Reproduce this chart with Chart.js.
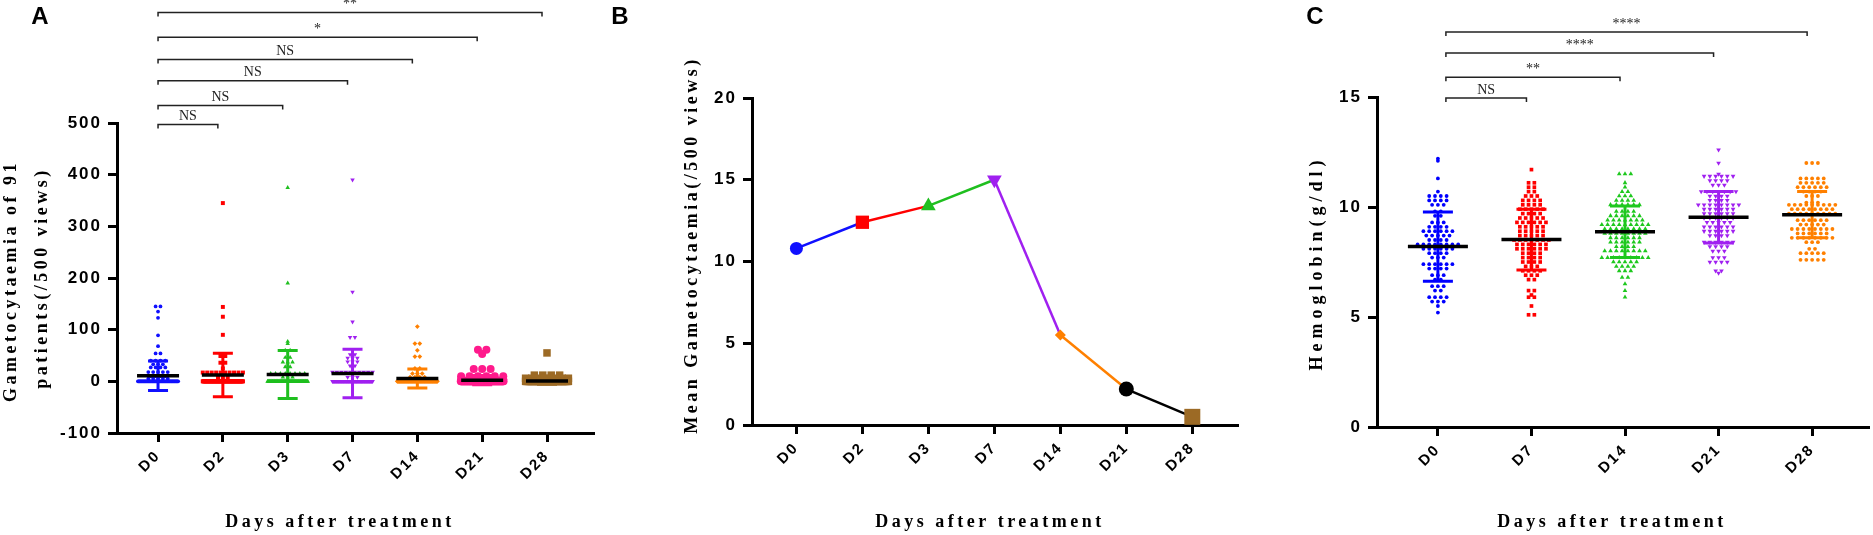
<!DOCTYPE html>
<html>
<head>
<meta charset="utf-8">
<script src="https://cdn.jsdelivr.net/npm/chart.js@4.4.0/dist/chart.umd.min.js"></script>
<style>
  body { margin: 0; background: #fff; }
  #wrap { position: relative; width: 1873px; height: 535px; }
  #wrap canvas { position: absolute; top: 0; }
</style>
</head>
<body>
<div id="wrap">
  <canvas id="chartA" width="600" height="535" style="left:0"></canvas>
  <canvas id="chartB" width="650" height="535" style="left:600px"></canvas>
  <canvas id="chartC" width="623" height="535" style="left:1250px"></canvas>
</div>
<script>
// ---- data ----
const daysGam = ['D0', 'D2', 'D3', 'D7', 'D14', 'D21', 'D28'];
const daysHb  = ['D0', 'D7', 'D14', 'D21', 'D28'];

const yTicksA = [-100, 0, 100, 200, 300, 400, 500];
const yTicksB = [0, 5, 10, 15, 20];
const yTicksC = [0, 5, 10, 15];

// mean gametocytaemia (/500 views) and SD per day
const meanGam = [10.8, 12.4, 13.4, 15.0, 5.5, 2.2, 0.5];
const sdGam   = [28.5, 42, 46.5, 47, 18.5, 9, 6];

// dot rows of panel A: [value, number of dots in the row]
const gamD0  = [[145,2],[135,1],[123,1],[89,1],[68,1],[54,2],[40,4],[33,3],[27,4],[18,5],[10,4],[5,5],[0,58]];
const gamD2  = [[345,1],[144,1],[125,1],[90,1],[49,2],[36,2],[25,1],[17,10],[8,3],[0,69]];
const gamD3  = [[375,1],[190,1],[77,1],[73,1],[60,2],[46,2],[37,3],[28,2],[15,8],[8,3],[0,67]];
const gamD7  = [[390,1],[173,1],[115,1],[85,2],[52,2],[45,3],[38,3],[30,2],[18,10],[8,3],[0,63]];
const gamD14 = [[106,1],[73,2],[60,1],[48,2],[25,2],[15,3],[8,4],[3,3],[0,73]];
const gamD21 = [[61,2],[53,1],[24,3],[10,6],[4,6],[0,73]];
const gamD28 = [[55,1],[12,4],[6,8],[0,78]];

// hemoglobin (g/dl): mean and SD per day
const meanHb = [8.2, 8.52, 8.87, 9.53, 9.65];
const sdHb   = [1.57, 1.38, 1.17, 1.17, 1.05];

// dot rows of panel C: [value, number of dots in the row]
const hbD0  = [[12.2,1],[12.1,1],[11.3,1],[10.7,1],[10.5,4],[10.3,4],[10.1,3],[9.8,2],[9.6,2],[9.3,3],[9.1,4],[8.9,6],[8.7,5],[8.5,4],[8.3,8],[8.1,6],[7.9,4],[7.7,3],[7.4,6],[7.2,4],[6.9,3],[6.7,2],[6.4,3],[6.2,2],[5.9,4],[5.7,3],[5.5,1],[5.2,1]];
const hbD7  = [[11.7,1],[11.1,2],[10.9,2],[10.7,2],[10.5,3],[10.3,4],[10.1,4],[9.9,5],[9.7,4],[9.5,5],[9.3,6],[9.1,5],[8.9,5],[8.7,5],[8.5,7],[8.3,6],[8.1,6],[7.9,4],[7.7,4],[7.5,4],[7.3,3],[7.1,4],[6.9,3],[6.7,2],[6.2,2],[6.0,1],[5.9,2],[5.5,1],[5.1,2]];
const hbD14 = [[11.5,3],[11.1,1],[10.9,1],[10.7,2],[10.5,3],[10.3,4],[10.1,6],[9.8,4],[9.6,6],[9.4,7],[9.2,9],[9.0,8],[8.8,8],[8.6,6],[8.4,6],[8.2,4],[8.0,8],[7.7,9],[7.5,5],[7.3,4],[7.1,3],[6.8,2],[6.5,1],[6.2,1],[5.9,1]];
const hbD21 = [[12.6,1],[12.0,1],[11.5,1],[11.4,6],[11.2,4],[11.0,3],[10.7,7],[10.5,4],[10.3,4],[10.1,8],[9.9,6],[9.7,6],[9.5,6],[9.3,5],[9.1,6],[8.9,6],[8.7,4],[8.4,6],[8.2,4],[8.0,3],[7.7,3],[7.5,4],[7.1,2],[7.0,1]];
const hbD28 = [[12.0,3],[11.3,5],[11.1,5],[10.9,6],[10.7,4],[10.5,3],[10.2,3],[10.1,9],[9.9,8],[9.7,9],[9.4,6],[9.2,5],[9.0,8],[8.8,6],[8.6,8],[8.4,3],[8.1,2],[7.9,5],[7.6,5]];

// significance brackets: [from, to, label] and the height (y value) of each
const bracketsA = [[0,1,'NS'],[0,2,'NS'],[0,3,'NS'],[0,4,'NS'],[0,5,'*'],[0,6,'**']];
const bracketYA = [497, 534, 582, 623, 666, 714];
const bracketsC = [[0,1,'NS'],[0,2,'**'],[0,3,'****'],[0,4,'****']];
const bracketYC = [14.95, 15.9, 17.0, 17.95];

// ---- styles ----
const colGam = ['#1010ff', '#ff0000', '#1fbf1f', '#a020f0', '#ff8000', '#ff1a8c', '#9c6a25'];
const colLine = ['#1010ff', '#ff0000', '#1fbf1f', '#a020f0', '#ff8000', '#000000', '#9c6a25'];
const colHb  = ['#0000ff', '#ff0000', '#1ec81e', '#a020f0', '#ff8000'];

const SANS = 'Liberation Sans';
const SERIF = '"Liberation Serif"';

// spread the dots of each row side by side around the category centre
function swarm(rows, centre, step, maxHalf) {
  const pts = [];
  rows.forEach(([v, n]) => {
    let s = step;
    if (n > 1 && (n - 1) * s / 2 > maxHalf) s = 2 * maxHalf / (n - 1);
    for (let k = 0; k < n; k++) pts.push({ x: centre + (k - (n - 1) / 2) * s, y: v });
  });
  return pts;
}

function xAxis(labels, min, max, height) {
  return {
    type: 'linear', min, max,
    afterBuildTicks: ax => { ax.ticks = labels.map((_, i) => ({ value: i })); },
    afterFit: ax => { ax.height = height; },
    border: { color: '#000', width: 3 },
    grid: { drawOnChartArea: false, tickLength: 9, tickWidth: 3, tickColor: '#000' },
    ticks: {
      autoSkip: false, minRotation: 45, maxRotation: 45, padding: 5, color: '#000',
      font: { family: SANS, weight: 'bold', size: 15 },
      callback: v => labels[v]
    }
  };
}

function yAxis(ticks, width) {
  return {
    type: 'linear', min: ticks[0], max: ticks[ticks.length - 1],
    afterBuildTicks: ax => { ax.ticks = ticks.map(v => ({ value: v })); },
    afterFit: ax => { ax.width = width; },
    border: { color: '#000', width: 3 },
    grid: { drawOnChartArea: false, tickLength: 9, tickWidth: 3, tickColor: '#000' },
    ticks: { padding: 6, color: '#000', font: { family: SANS, weight: 'bold', size: 17 } }
  };
}

// letter spacing of the tick labels (set before measuring and before drawing)
const spacing = {
  id: 'spacing',
  beforeLayout(chart) { chart.ctx.letterSpacing = '2px'; },
  beforeDraw(chart) { chart.ctx.letterSpacing = '2px'; }
};

// axis titles and panel letters
function texts(items) {
  return {
    id: 'texts',
    afterDraw(chart) {
      const ctx = chart.ctx;
      items.forEach(t => {
        ctx.save();
        ctx.font = t.font;
        ctx.letterSpacing = t.sp || '0px';
        ctx.fillStyle = '#000';
        ctx.textAlign = 'center';
        ctx.textBaseline = 'middle';
        ctx.translate(t.x, t.y);
        if (t.rot) ctx.rotate(t.rot);
        ctx.fillText(t.text, 0, 0);
        ctx.restore();
      });
    }
  };
}

// mean line (black) with SD error bars (group colour)
function meanSd(means, sds, colors, capHalf, meanHalf) {
  return {
    id: 'meanSd',
    afterDatasetsDraw(chart) {
      const { ctx, scales: { x, y } } = chart;
      ctx.save();
      means.forEach((m, i) => {
        const px = x.getPixelForValue(i);
        const top = y.getPixelForValue(m + sds[i]);
        const bot = y.getPixelForValue(m - sds[i]);
        ctx.strokeStyle = colors[i];
        ctx.lineWidth = 3;
        ctx.beginPath();
        ctx.moveTo(px, top); ctx.lineTo(px, bot);
        ctx.moveTo(px - capHalf, top); ctx.lineTo(px + capHalf, top);
        ctx.moveTo(px - capHalf, bot); ctx.lineTo(px + capHalf, bot);
        ctx.stroke();
        const pm = y.getPixelForValue(m);
        ctx.strokeStyle = '#000';
        ctx.lineWidth = 3.5;
        ctx.beginPath();
        ctx.moveTo(px - meanHalf, pm); ctx.lineTo(px + meanHalf, pm);
        ctx.stroke();
      });
      ctx.restore();
    }
  };
}

// comparison brackets above the plot
function brackets(pairs, heights, insetL, insetR) {
  return {
    id: 'brackets',
    afterDraw(chart) {
      const { ctx, scales: { x, y } } = chart;
      ctx.save();
      ctx.strokeStyle = '#222';
      ctx.fillStyle = '#222';
      ctx.lineWidth = 1.5;
      ctx.letterSpacing = '0px';
      ctx.font = '14px ' + SERIF;
      ctx.textAlign = 'center';
      ctx.textBaseline = 'middle';
      pairs.forEach(([a, b, label], k) => {
        const x0 = x.getPixelForValue(a) + insetL;
        const x1 = x.getPixelForValue(b) - insetR;
        const py = y.getPixelForValue(heights[k]);
        ctx.beginPath();
        ctx.moveTo(x0, py + 4); ctx.lineTo(x0, py); ctx.lineTo(x1, py); ctx.lineTo(x1, py + 4);
        ctx.stroke();
        ctx.fillText(label, (x0 + x1) / 2, py - 8);
      });
      ctx.restore();
    }
  };
}

function baseOptions(padding, scales) {
  return {
    responsive: false,
    animation: false,
    layout: { padding },
    plugins: { legend: { display: false }, tooltip: { enabled: false } },
    scales
  };
}

// ---- A: gametocytaemia dot plot ----
const rowsA = [gamD0, gamD2, gamD3, gamD7, gamD14, gamD21, gamD28];
const markA = [
  { style: 'circle', r: 1.9, rot: 0, step: 0.075, half: 0.31 },
  { style: 'rect', r: 2.8, rot: 0, step: 0.075, half: 0.31 },
  { style: 'triangle', r: 2.6, rot: 0, step: 0.075, half: 0.31 },
  { style: 'triangle', r: 2.6, rot: 180, step: 0.075, half: 0.31 },
  { style: 'rectRot', r: 2.4, rot: 0, step: 0.075, half: 0.31 },
  { style: 'circle', r: 4, rot: 0, step: 0.13, half: 0.33 },
  { style: 'rect', r: 5.3, rot: 0, step: 0.13, half: 0.33 }
];

new Chart(document.getElementById('chartA'), {
  type: 'scatter',
  data: {
    datasets: rowsA.map((rows, i) => ({
      data: swarm(rows, i, markA[i].step, markA[i].half),
      pointStyle: markA[i].style,
      pointRotation: markA[i].rot,
      pointRadius: markA[i].r,
      pointBorderWidth: 0,
      pointBackgroundColor: colGam[i]
    }))
  },
  options: baseOptions({ top: 123, right: 6, bottom: 0, left: 0 }, {
    x: xAxis(daysGam, -0.633, 6.725, 102),
    y: yAxis(yTicksA, 117)
  }),
  plugins: [
    spacing,
    meanSd(meanGam, sdGam, colGam, 10, 21),
    brackets(bracketsA, bracketYA, 0, 5),
    texts([
      { text: 'A', x: 40, y: 17, font: 'bold 24px ' + SANS },
      { text: 'Days after treatment', x: 340, y: 522, font: 'bold 18px ' + SERIF, sp: '3.5px' },
      { text: 'Gametocytaemia of 91', x: 11, y: 281, rot: -Math.PI / 2, font: 'bold 18px ' + SERIF, sp: '3.5px' },
      { text: 'patients(/500 views)', x: 42, y: 278, rot: -Math.PI / 2, font: 'bold 18px ' + SERIF, sp: '3.5px' }
    ])
  ]
});

// ---- B: mean gametocytaemia over time ----
new Chart(document.getElementById('chartB'), {
  type: 'scatter',
  data: {
    datasets: [{
      data: meanGam.map((v, i) => ({ x: i, y: v })),
      showLine: true,
      borderWidth: 2.5,
      tension: 0,
      clip: false,
      segment: { borderColor: c => colLine[c.p0DataIndex] },
      pointStyle: ['circle', 'rect', 'triangle', 'triangle', 'rectRot', 'circle', 'rect'],
      pointRotation: [0, 0, 0, 180, 0, 0, 0],
      pointRadius: [6.5, 9.4, 8.5, 8.5, 5.5, 7.5, 11.3],
      pointBorderWidth: 0,
      pointBackgroundColor: colLine
    }]
  },
  options: baseOptions({ top: 98, right: 5, bottom: 0, left: 0 }, {
    x: xAxis(daysGam, -0.673, 6.703, 110),
    y: yAxis(yTicksB, 152)
  }),
  plugins: [
    spacing,
    texts([
      { text: 'B', x: 20, y: 17, font: 'bold 24px ' + SANS },
      { text: 'Days after treatment', x: 390, y: 522, font: 'bold 18px ' + SERIF, sp: '3.5px' },
      { text: 'Mean Gametocytaemia(/500 views)', x: 92, y: 245, rot: -Math.PI / 2, font: 'bold 18px ' + SERIF, sp: '3.5px' }
    ])
  ]
});

// ---- C: hemoglobin dot plot ----
const rowsC = [hbD0, hbD7, hbD14, hbD21, hbD28];
const markC = [
  { style: 'circle', r: 1.9, rot: 0 },
  { style: 'rect', r: 2.6, rot: 0 },
  { style: 'triangle', r: 2.7, rot: 0 },
  { style: 'triangle', r: 2.7, rot: 180 },
  { style: 'circle', r: 1.9, rot: 0 }
];

new Chart(document.getElementById('chartC'), {
  type: 'scatter',
  data: {
    datasets: rowsC.map((rows, i) => ({
      data: swarm(rows, i, 0.062, 0.35),
      pointStyle: markC[i].style,
      pointRotation: markC[i].rot,
      pointRadius: markC[i].r,
      pointBorderWidth: 0,
      pointBackgroundColor: colHb[i]
    }))
  },
  options: baseOptions({ top: 97, right: 3, bottom: 0, left: 0 }, {
    x: xAxis(daysHb, -0.651, 4.608, 108),
    y: yAxis(yTicksC, 127)
  }),
  plugins: [
    spacing,
    meanSd(meanHb, sdHb, colHb, 15, 30),
    brackets(bracketsC, bracketYC, 8, 5),
    texts([
      { text: 'C', x: 65, y: 17, font: 'bold 24px ' + SANS },
      { text: 'Days after treatment', x: 362, y: 522, font: 'bold 18px ' + SERIF, sp: '3.5px' },
      { text: 'Hemoglobin(g/dl)', x: 67, y: 263, rot: -Math.PI / 2, font: 'bold 18px ' + SERIF, sp: '5px' }
    ])
  ]
});
</script>
</body>
</html>
